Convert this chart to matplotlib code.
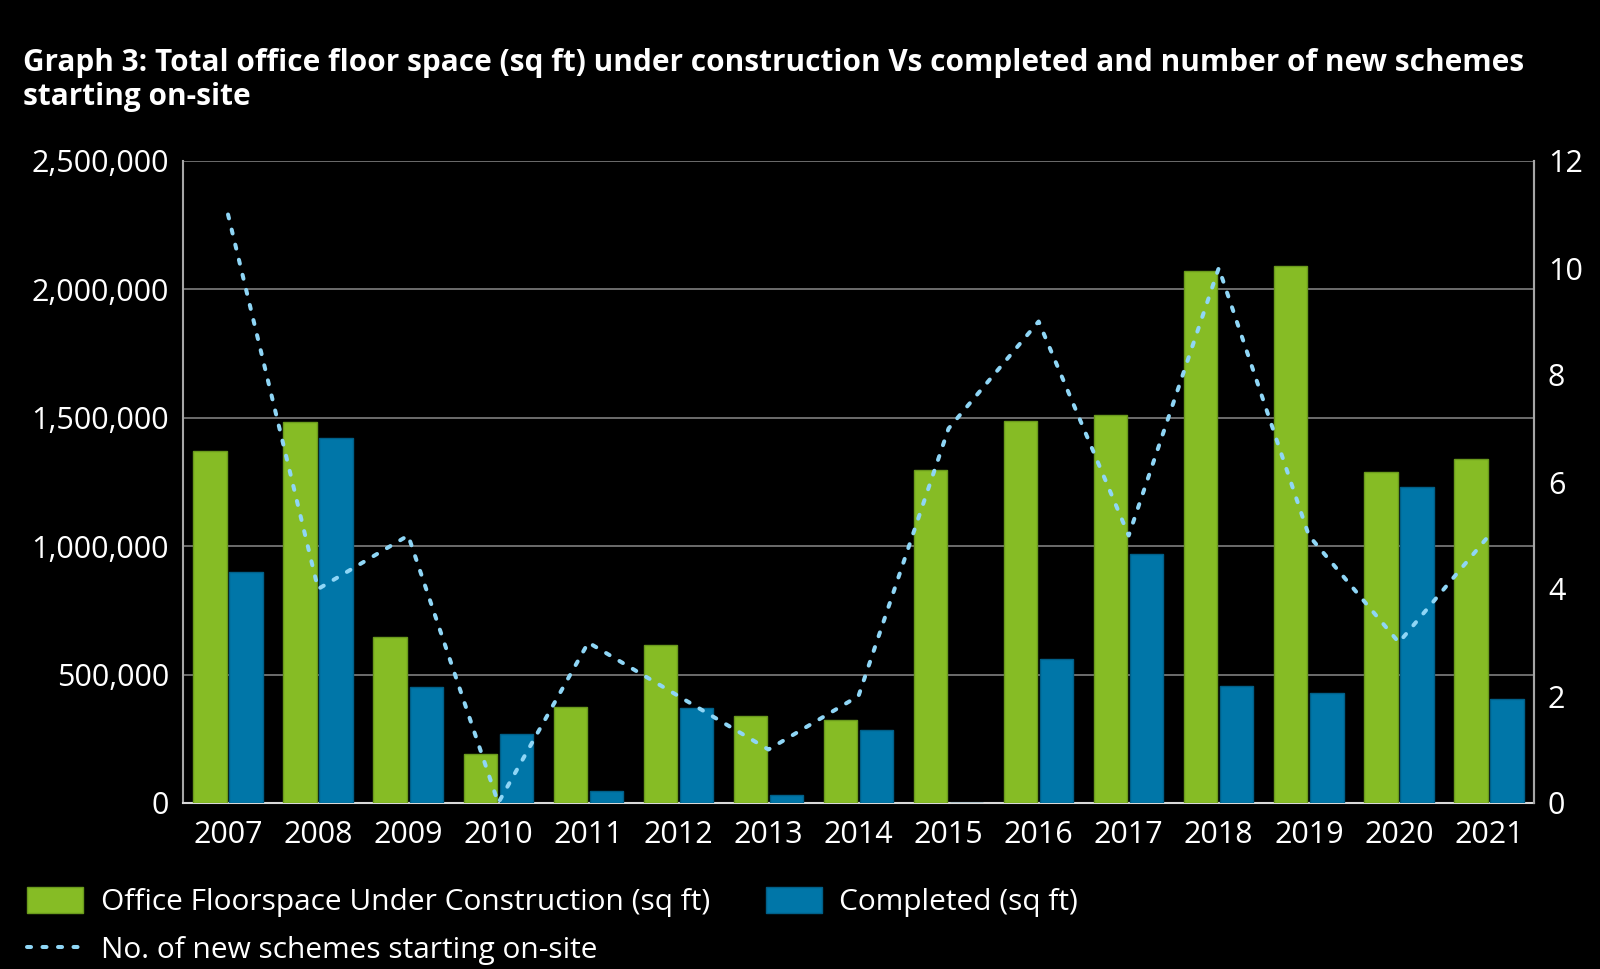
import matplotlib
matplotlib.use("Agg")
import matplotlib.pyplot as plt
import numpy as np
from matplotlib.ticker import FuncFormatter, MultipleLocator
from matplotlib.patches import Patch
from matplotlib.lines import Line2D

plt.rcParams['font.family'] = ['Open Sans', 'DejaVu Sans']

years = ['2007', '2008', '2009', '2010', '2011', '2012', '2013', '2014',
         '2015', '2016', '2017', '2018', '2019', '2020', '2021']
under_construction = [1370000, 1485000, 645000, 190000, 372000, 614000, 337000, 325000,
                      1296000, 1486000, 1510000, 2072000, 2092000, 1288000, 1339000]
completed = [900000, 1422000, 452000, 269000, 48000, 368000, 32000, 285000,
             0, 559000, 971000, 456000, 428000, 1232000, 404000]
new_schemes = [11, 4, 5, 0, 3, 2, 1, 2, 7, 9, 5, 10, 5, 3, 5]

green = '#86BC25'
blue = '#0076A8'
line_col = '#8FD6F6'
grid_col = '#7F7F7F'

fig = plt.figure(figsize=(16, 9.69), dpi=100, facecolor='black')
ax = fig.add_axes([183/1600, 1-803/969, (1534-183)/1600, (803-161)/969])
ax.set_facecolor('black')

x = np.arange(len(years))
w = 0.37
ax.bar(x - 0.2, under_construction, w, color=green, edgecolor='#6A9A1C', linewidth=1, zorder=3)
ax.bar(x + 0.2, completed, w, color=blue, edgecolor='#005F88', linewidth=1, zorder=3)

ax.set_xlim(-0.5, len(years) - 0.5)
ax.set_ylim(0, 2500000)
ax.yaxis.set_major_locator(MultipleLocator(500000))
ax.yaxis.set_major_formatter(FuncFormatter(lambda v, p: f'{int(v):,}'))
ax.grid(axis='y', color=grid_col, linewidth=1.2, zorder=0)
ax.set_xticks(x)
ax.set_xticklabels(years)

ax.spines['top'].set_visible(False)
for s in ['left', 'right', 'bottom']:
    ax.spines[s].set_color('#A6A6A6')
    ax.spines[s].set_linewidth(1.5)
ax.spines['bottom'].set_color('#D9D9D9')

ax.tick_params(axis='y', length=0, pad=10, labelsize=22, colors='white')
ax.tick_params(axis='x', length=0, pad=12, labelsize=22, colors='white')

ax2 = ax.twinx()
ax2.set_ylim(0, 12)
ax2.yaxis.set_major_locator(MultipleLocator(2))
ax2.plot(x, new_schemes, color=line_col, linewidth=2.9, dashes=(1.0, 2.85),
         dash_capstyle='round', zorder=5)
for s in ['top', 'left', 'bottom']:
    ax2.spines[s].set_visible(False)
ax2.spines['right'].set_color('#A6A6A6')
ax2.spines['right'].set_linewidth(1.5)
ax2.tick_params(axis='y', length=0, pad=10, labelsize=22, colors='white')

fig.text(23/1600, 1-71/969, 'Graph 3: Total office floor space (sq ft) under construction Vs completed and number of new schemes',
         color='white', fontsize=21.4, fontweight='bold', va='baseline', ha='left')
fig.text(23/1600, 1-105/969, 'starting on-site',
         color='white', fontsize=21.4, fontweight='bold', va='baseline', ha='left')

handles = [Patch(facecolor=green, edgecolor='#6A9A1C'),
           Line2D([0], [0], color=line_col, linewidth=2.9, dashes=(1.0, 2.85), dash_capstyle='round'),
           Patch(facecolor=blue, edgecolor='#005F88')]
labels = ['Office Floorspace Under Construction (sq ft)',
          'No. of new schemes starting on-site',
          'Completed (sq ft)']
leg = fig.legend(handles, labels, ncol=2, loc='upper left', bbox_to_anchor=(0/1600, 1-860/969),
                 frameon=False, fontsize=21.5, labelcolor='white', handlelength=1.87,
                 handleheight=0.97, handletextpad=0.6, columnspacing=1.87, labelspacing=0.6)

fig.savefig('out.png', dpi=100, facecolor='black')
